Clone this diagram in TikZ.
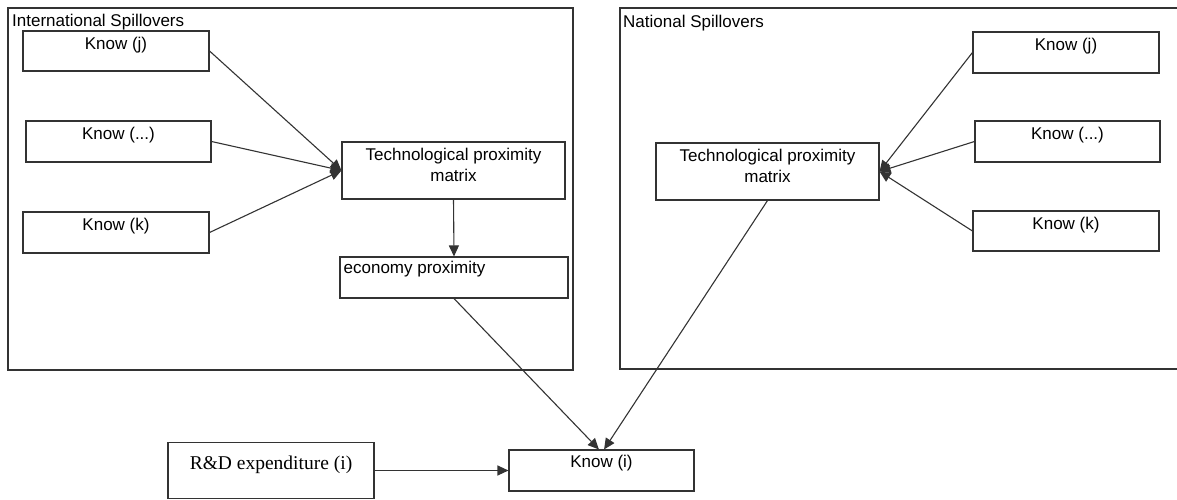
\documentclass[tikz,border=0pt]{standalone}
\usepackage{fontspec}
\setmainfont{Liberation Sans}
\newfontfamily\rmserif{Liberation Serif}
\usetikzlibrary{arrows.meta}
\begin{document}
\begin{tikzpicture}[x=1pt,y=-1pt,
  box/.style={draw=black!80, line width=1.1pt, rectangle, inner sep=0pt, fill=white},
  lab/.style={font=\fontsize{17}{21}\selectfont, inner sep=0pt, anchor=base, text=black},
  lab2/.style={font=\fontsize{17}{21}\selectfont, inner sep=0pt, anchor=north, align=center, text=black},
  arr/.style={draw=black!80, line width=1.1pt, -{Triangle[length=11pt,width=10pt]}},
  con/.style={draw=black!80, line width=1.1pt}]
\useasboundingbox (0,0) rectangle (1177,500);

% containers
\node[box, minimum width=565pt, minimum height=362pt] (intl) at (290.5,189) {};
\node[lab, anchor=base west] (tintl) at (12,27) {International Spillovers};
\coordinate (natTR) at (1177,8);
\coordinate (natTL) at (620,8);
\coordinate (natBL) at (620,369);
\coordinate (natBR) at (1177,369);
\draw[con] (natTR) -- (natTL) -- (natBL) -- (natBR);
\node[lab, anchor=base west] (tnat) at (623,28) {National Spillovers};

% left group
\node[box, minimum width=186pt, minimum height=40pt, label={[lab,yshift=-19pt]north:Know (j)}] (lj) at (116,51) {};
\node[box, minimum width=185pt, minimum height=41pt, label={[lab,yshift=-19pt]north:Know (...)}] (ld) at (118.5,141.5) {};
\node[box, minimum width=186pt, minimum height=41pt, label={[lab,yshift=-19pt]north:Know (k)}] (lk) at (116,232.5) {};
\node[box, minimum width=223pt, minimum height=57pt, label={[lab2,yshift=-6.5pt]north:{Technological proximity\\matrix}}] (ltech) at (453.5,170.5) {};
\node[box, minimum width=228pt, minimum height=41pt, label={[lab, anchor=base west, xshift=4pt, yshift=-17pt]north west:economy proximity}] (econ) at (454,277.5) {};

% right group
\node[box, minimum width=186pt, minimum height=41pt, label={[lab,yshift=-19pt]north:Know (j)}] (rj) at (1066,52.5) {};
\node[box, minimum width=185pt, minimum height=41pt, label={[lab,yshift=-19pt]north:Know (...)}] (rd) at (1067.5,141.5) {};
\node[box, minimum width=186pt, minimum height=40pt, label={[lab,yshift=-19pt]north:Know (k)}] (rk) at (1066,231) {};
\node[box, minimum width=223pt, minimum height=57pt, label={[lab2,yshift=-6.5pt]north:{Technological proximity\\matrix}}] (rtech) at (767.5,171.5) {};

% bottom
\node[box, minimum width=206pt, minimum height=56pt, label={[lab, font=\rmserif\fontsize{19.5}{23}\selectfont, yshift=-28pt]north:R\&D expenditure (i)}] (rdexp) at (271,470.5) {};
\node[box, minimum width=185pt, minimum height=41pt, label={[lab,yshift=-18pt]north:Know (i)}] (ki) at (601.5,470.5) {};

% connectors
\draw[arr] (lj.east) -- (ltech.west);
\draw[arr] (ld.east) -- (ltech.west);
\draw[arr] (lk.east) -- (ltech.west);
\draw[arr] (ltech.south) -- (econ.north);
\draw[arr] (econ.south) -- (ki.97);
\draw[arr] (rj.west) -- (rtech.east);
\draw[arr] (rd.west) -- (rtech.east);
\draw[arr] (rk.west) -- (rtech.east);
\draw[arr] (rtech.south) -- (ki.83);
\draw[arr] (rdexp.east) -- (ki.west);
\end{tikzpicture}
\end{document}
